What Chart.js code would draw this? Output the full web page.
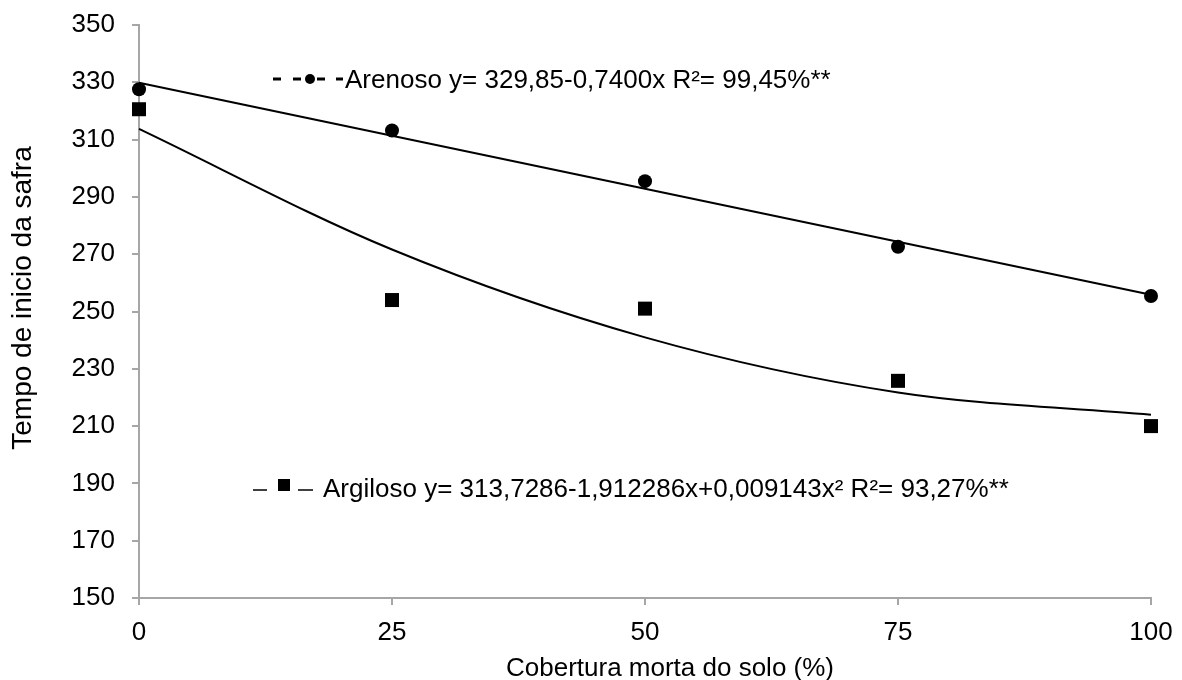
<!DOCTYPE html>
<html>
<head>
<meta charset="utf-8">
<script src="https://cdn.jsdelivr.net/npm/chart.js@4/dist/chart.umd.min.js"></script>
<style>
  body { margin: 0; background: #fff; }
  #wrap { width: 1182px; height: 680px; }
</style>
</head>
<body>
<div id="wrap"><canvas id="chart"></canvas></div>
<script>
// dados
const coberturas = [0, 25, 50, 75, 100];
const arenoso = [327.6, 313.2, 295.5, 272.6, 255.4];
const argiloso = [320.6, 254.0, 251.0, 225.8, 210.0];
// linhas de ajuste (valores das equacoes)
const arenosoAjusteX = [0, 100];
const arenosoAjuste = [329.85, 255.85];
const argilosoAjuste = [313.73, 271.63, 240.97, 221.73, 213.93];

const legendaArenoso = 'Arenoso y= 329,85-0,7400x R²= 99,45%**';
const legendaArgiloso = 'Argiloso y= 313,7286-1,912286x+0,009143x² R²= 93,27%**';
const tituloX = 'Cobertura morta do solo (%)';
const tituloY = 'Tempo de inicio da safra';

const FONT = "'Liberation Sans', Arial, sans-serif";
const AXIS_GREY = '#a6a6a6';

const toXY = (xs, ys) => xs.map((x, i) => ({ x: x, y: ys[i] }));

// legendas dentro do grafico + titulos dos eixos
const textos = {
  id: 'textos',
  afterDraw(chart) {
    const ctx = chart.ctx;
    ctx.save();
    ctx.fillStyle = '#000';
    ctx.strokeStyle = '#000';
    ctx.font = '26px ' + FONT;
    ctx.textBaseline = 'alphabetic';
    ctx.textAlign = 'left';

    // Arenoso: - -●- -
    ctx.lineWidth = 3;
    [[273, 281], [293, 301], [317, 325], [336, 343]].forEach(d => {
      ctx.beginPath();
      ctx.moveTo(d[0], 79);
      ctx.lineTo(d[1], 79);
      ctx.stroke();
    });
    ctx.beginPath();
    ctx.arc(310, 79, 5, 0, Math.PI * 2);
    ctx.fill();
    ctx.fillText(legendaArenoso, 345, 88);

    // Argiloso: – ■ –
    ctx.lineWidth = 1.5;
    [[253, 267], [298, 313]].forEach(d => {
      ctx.beginPath();
      ctx.moveTo(d[0], 490);
      ctx.lineTo(d[1], 490);
      ctx.stroke();
    });
    ctx.fillRect(278, 479, 12, 12);
    ctx.fillText(legendaArgiloso, 323, 497);

    // titulo eixo x
    ctx.textAlign = 'center';
    ctx.fillText(tituloX, 670, 676);

    // titulo eixo y
    ctx.translate(23, 298);
    ctx.rotate(-Math.PI / 2);
    ctx.font = '28px ' + FONT;
    ctx.textBaseline = 'middle';
    ctx.fillText(tituloY, 0, 0);
    ctx.restore();
  }
};

new Chart(document.getElementById('chart'), {
  type: 'scatter',
  data: {
    datasets: [
      {
        label: 'Arenoso',
        data: toXY(coberturas, arenoso),
        pointStyle: 'circle',
        pointRadius: 7,
        pointHoverRadius: 7,
        backgroundColor: '#000',
        borderColor: '#000',
        borderWidth: 0,
        showLine: false,
        clip: false
      },
      {
        label: 'Argiloso',
        data: toXY(coberturas, argiloso),
        pointStyle: 'rect',
        pointRadius: 9.9,
        pointHoverRadius: 9.9,
        backgroundColor: '#000',
        borderColor: '#000',
        borderWidth: 0,
        showLine: false,
        clip: false
      },
      {
        label: 'Ajuste Arenoso',
        data: toXY(arenosoAjusteX, arenosoAjuste),
        showLine: true,
        pointRadius: 0,
        borderColor: '#000',
        borderWidth: 2,
        clip: false
      },
      {
        label: 'Ajuste Argiloso',
        data: toXY(coberturas, argilosoAjuste),
        showLine: true,
        cubicInterpolationMode: 'monotone',
        pointRadius: 0,
        borderColor: '#000',
        borderWidth: 2,
        clip: false
      }
    ]
  },
  options: {
    responsive: true,
    maintainAspectRatio: false,
    animation: false,
    events: [],
    layout: {
      autoPadding: false,
      padding: { top: 25, right: 31, left: 0, bottom: 0 }
    },
    plugins: {
      legend: { display: false },
      tooltip: { enabled: false }
    },
    scales: {
      x: {
        type: 'linear',
        min: 0,
        max: 100,
        afterFit: s => {
          s.height = 82;
          s.paddingLeft = 0;
          s.paddingRight = 0;
        },
        ticks: {
          stepSize: 25,
          maxRotation: 0,
          padding: 12,
          color: '#000',
          font: { size: 26, family: FONT }
        },
        grid: { drawOnChartArea: false, drawTicks: true, tickLength: 7, color: AXIS_GREY, lineWidth: 2 },
        border: { display: true, color: AXIS_GREY, width: 2 }
      },
      y: {
        type: 'linear',
        min: 150,
        max: 350,
        afterFit: s => {
          s.width = 139;
          s.paddingTop = 0;
          s.paddingBottom = 0;
        },
        ticks: {
          stepSize: 20,
          padding: 17,
          color: '#000',
          font: { size: 26, family: FONT }
        },
        grid: { drawOnChartArea: false, drawTicks: true, tickLength: 7, color: AXIS_GREY, lineWidth: 2 },
        border: { display: true, color: AXIS_GREY, width: 2 }
      }
    }
  },
  plugins: [textos]
});
</script>
</body>
</html>
